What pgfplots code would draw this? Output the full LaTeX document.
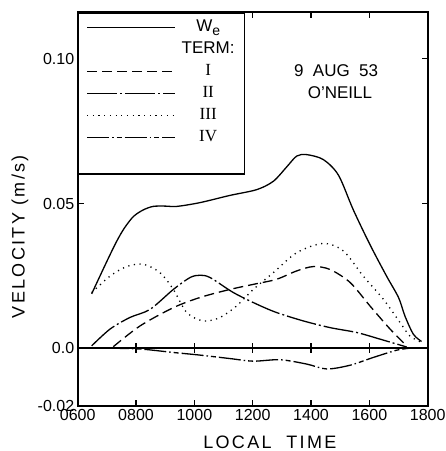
\documentclass[border=0pt]{standalone}
\usepackage{fontspec}
\setmainfont{Liberation Sans}
\newfontfamily\serif{Liberation Serif}
\newfontfamily\spaced{Liberation Sans}[LetterSpace=13]
\usepackage{pgfplots}
\pgfplotsset{compat=1.18}

\begin{document}
\begin{tikzpicture}
\begin{axis}[
  scale only axis, width=350pt, height=394pt,
  xmin=600, xmax=1800, ymin=-0.02, ymax=0.1162,
  xtick={600,800,...,1800},
  xticklabels={0600,0800,1000,1200,1400,1600,1800},
  ytick={-0.02,0,0.05,0.10},
  yticklabels={-0.02,0.0,0.05,0.10},
  tick align=inside, major tick length=6pt,
  tick style={black, line width=1.2pt},
  axis line style={line width=1.8pt},
  tick label style={font=\fontsize{16}{16}\selectfont},
  xlabel={\spaced LOCAL\ \ TIME},
  ylabel={\spaced VELOCITY (m/s)},
  label style={font=\fontsize{18}{18}\selectfont},
  xlabel style={at={(axis description cs:0.549,-0.0914)}, anchor=center},
  ylabel style={at={(axis description cs:-0.165,0.43)}, anchor=center},
  legend image code/.code={\draw[#1] (0pt,0pt) -- (88pt,0pt);},
  legend cell align=center,
  legend style={at={(0,1)}, anchor=north west, draw=black, line width=1.5pt,
    fill=white, font=\fontsize{17}{17}\selectfont,
    inner xsep=8pt, inner ysep=4pt, row sep=1pt,
    /tikz/column sep=4pt,
    nodes={inner sep=2pt, text height=13pt, text depth=4pt}},
]
\addplot[black, line width=1.3pt, smooth] coordinates {
  (648,0.0188)(700,0.0300)(734,0.0370)(760,0.0415)(791,0.0455)(825,0.0478)
  (859,0.0490)(900,0.0491)(940,0.0490)(1019,0.0503)(1122,0.0528)(1214,0.0548)
  (1271,0.0577)(1317,0.0627)(1351,0.0664)(1385,0.0669)(1442,0.0652)(1494,0.0598)
  (1545,0.0478)(1602,0.0358)(1659,0.0249)(1700,0.0175)(1722,0.0111)(1751,0.0048)
  (1779,0.0023)
};
\addlegendentry{W\raisebox{-0.4ex}{\fontsize{14}{14}\selectfont e}}
\addlegendimage{empty legend}
\addlegendentry{TERM:}
\addplot[black, line width=1.3pt, smooth, dash pattern=on 10pt off 5pt] coordinates {
  (722,0.0005)(814,0.0077)(928,0.0140)(1019,0.0175)(1122,0.0203)(1214,0.0223)
  (1282,0.0238)(1351,0.0267)(1408,0.0282)(1465,0.0272)(1534,0.0227)(1602,0.0146)
  (1671,0.0066)(1728,0.0008)
};
\addlegendentry{\serif I}
\addplot[black, line width=1.3pt, smooth, dash pattern=on 30pt off 3pt on 2pt off 3pt] coordinates {
  (648,0.0008)(711,0.0066)(779,0.0106)(848,0.0134)(928,0.0203)(985,0.0244)
  (1019,0.0252)(1054,0.0244)(1134,0.0192)(1214,0.0152)(1282,0.0123)(1374,0.0094)
  (1465,0.0071)(1557,0.0054)(1637,0.0031)(1728,0.0004)
};
\addlegendentry{\serif II}
\addplot[black, line width=1.3pt, smooth, dash pattern=on 1.2pt off 4.5pt] coordinates {
  (648,0.0192)(711,0.0249)(768,0.0282)(825,0.0290)(882,0.0261)(928,0.0203)
  (974,0.0123)(1031,0.0094)(1088,0.0106)(1145,0.0146)(1202,0.0203)(1271,0.0261)
  (1351,0.0330)(1442,0.0362)(1511,0.0336)(1579,0.0249)(1648,0.0169)(1705,0.0089)
  (1739,0.0042)(1779,0.0020)
};
\addlegendentry{\serif III}
\addplot[black, line width=1.3pt, smooth, dash pattern=on 22pt off 3pt on 1.5pt off 3pt on 5pt off 3pt] coordinates {
  (700,0)(814,-0.0003)(928,-0.0015)(1019,-0.0024)(1122,-0.0036)(1202,-0.0045)
  (1294,-0.0040)(1385,-0.0055)(1454,-0.0072)(1534,-0.0059)(1614,-0.0032)
  (1694,-0.0007)(1740,0)
};
\addlegendentry{\serif IV}
\addlegendimage{empty legend}
\addlegendentry{}
% zero line with its crossing ticks
\addplot[black, line width=1.3pt, forget plot] coordinates {(600,0)(1800,0)};
\addplot[black, only marks, mark=|, mark size=5pt, mark options={line width=1.2pt}, forget plot]
  coordinates {(800,0)(1000,0)(1200,0)(1400,0)(1600,0)};
\node[font=\fontsize{17}{17}\selectfont] at (axis cs:1486,0.0959) {9\ \ AUG\ \ 53};
\node[font=\fontsize{17}{17}\selectfont] at (axis cs:1499,0.0883) {O'NEILL};
\end{axis}
\pgfresetboundingbox
\path ([shift={(-77.7pt,-45pt)}]current axis.south west) rectangle ([shift={(18pt,12pt)}]current axis.north east);
\end{tikzpicture}
\end{document}
